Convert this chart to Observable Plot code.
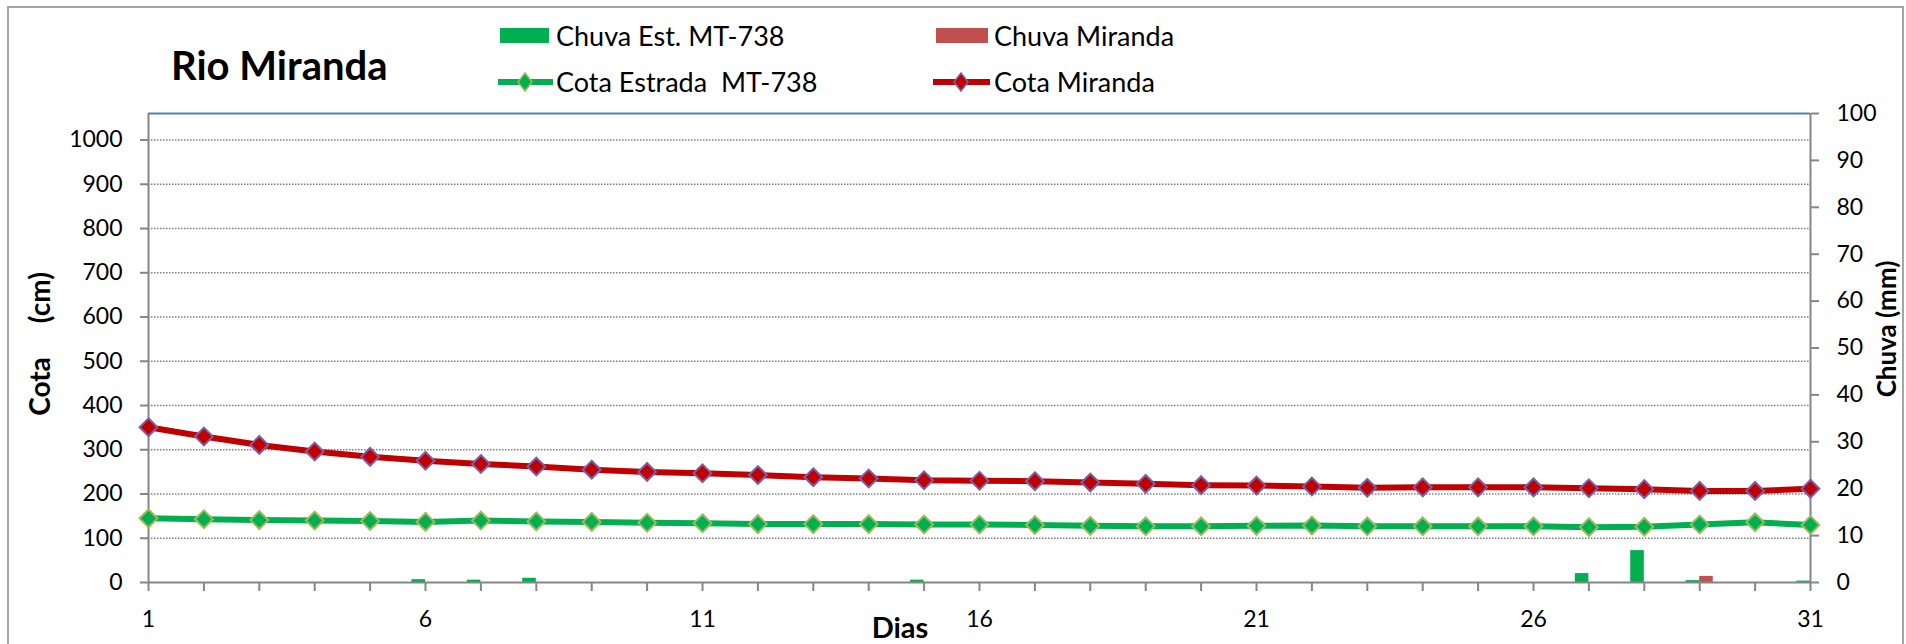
<!DOCTYPE html>
<html>
<head>
<meta charset="utf-8">
<script src="https://cdn.jsdelivr.net/npm/d3@7"></script>
<script src="https://cdn.jsdelivr.net/npm/@observablehq/plot@0.6"></script>
<style>
  body { margin: 0; background: #fff; font-family: Lato, "Open Sans", sans-serif; }
  #wrap { position: relative; width: 1906px; height: 644px; overflow: hidden; background: #fff; }
  #frame { position: absolute; left: 7px; top: 6px; width: 1897px; height: 720px; border: 2px solid #a6a6a6; box-sizing: border-box; pointer-events: none; }
  #header { display: block; }
  #chart svg { display: block; }
</style>
</head>
<body>
<div id="wrap">
  <svg id="header" width="1906" height="100"></svg>
  <div id="chart"></div>
  <div id="frame"></div>
</div>
<script>
// ---- Data ----
const days = [1,2,3,4,5,6,7,8,9,10,11,12,13,14,15,16,17,18,19,20,21,22,23,24,25,26,27,28,29,30,31];
const cotaMiranda = [351,330,311,296,284,275,268,262,255,250,247,243,238,235,231,230,229,226,223,220,219,217,214,215,215,215,213,211,207,207,212];
const cotaEstrada = [145,143,141,140,139,137,140,138,137,135,134,132,132,132,131,131,130,128,127,127,128,129,127,127,127,127,125,126,131,136,130];
const chuvaEst    = [0,0,0,0,0,0.6,0.5,0.9,0,0,0,0,0,0,0.5,0,0,0,0,0,0,0,0,0,0,0,1.9,6.8,0.4,0,0.3];
const chuvaMir    = [0,0,0,0,0,0,0,0,0,0,0,0,0,0,0,0,0,0,0,0,0,0,0,0,0,0,0,0,1.3,0,0];
const cotaTicks   = [0,100,200,300,400,500,600,700,800,900,1000];
const chuvaTicks  = [0,10,20,30,40,50,60,70,80,90,100];
const xLabelDays  = [1,6,11,16,21,26,31];

const title = "Rio Miranda";
const legendItems = ["Chuva Est. MT-738", "Chuva Miranda", "Cota Estrada\u00a0\u00a0MT-738", "Cota Miranda"];
const yTitleLeft = "Cota\u00a0\u00a0\u00a0\u00a0\u00a0(cm)";
const yTitleRight = "Chuva (mm)";
const xTitle = "Dias";

// ---- Styles ----
const GREEN = "#00B050", RED_BAR = "#C0504D", RED = "#C00000";
const AXIS = "#868686";
const COTA_MAX = 1060;              // left axis top
const K = COTA_MAX / 100;           // right axis (0..100 mm) mapped onto left scale
const BW = 0.245;                   // bar width in days

const data = days.map((d, i) => ({
  day: d, miranda: cotaMiranda[i], estrada: cotaEstrada[i],
  chuvaEst: chuvaEst[i], chuvaMir: chuvaMir[i]
}));

// ---- Header: title + legend ----
const hdr = d3.select("#header");
hdr.append("text").attr("x", 171).attr("y", 80)
  .attr("font-family", "Lato").attr("font-weight", 700).attr("font-size", 40)
  .attr("fill", "#000").text(title);

function legText(x, y, t) {
  hdr.append("text").attr("x", x).attr("y", y)
    .attr("font-family", "Lato").attr("font-size", 27).attr("fill", "#000")
    .text(t);
}
function legDiamond(cx, cy, fill, stroke) {
  hdr.append("path")
    .attr("d", `M${cx},${cy-9}L${cx+7},${cy}L${cx},${cy+9}L${cx-7},${cy}Z`)
    .attr("fill", fill).attr("stroke", stroke).attr("stroke-width", 1.5);
}
hdr.append("rect").attr("x", 500).attr("y", 28).attr("width", 49).attr("height", 15).attr("fill", GREEN);
legText(556, 46, legendItems[0]);
hdr.append("rect").attr("x", 936).attr("y", 28).attr("width", 52).attr("height", 15).attr("fill", RED_BAR);
legText(994, 46, legendItems[1]);
hdr.append("line").attr("x1", 498).attr("x2", 553).attr("y1", 82).attr("y2", 82)
  .attr("stroke", GREEN).attr("stroke-width", 6);
legDiamond(525, 82, GREEN, "#9BBB59");
legText(556, 92, legendItems[2]);
hdr.append("line").attr("x1", 933).attr("x2", 990).attr("y1", 82).attr("y2", 82)
  .attr("stroke", RED).attr("stroke-width", 6);
legDiamond(961, 82, RED, "#7A5FA6");
legText(994, 92, legendItems[3]);

// ---- Chart ----
const chart = Plot.plot({
  width: 1906,
  height: 544,
  marginTop: 13,
  marginBottom: 62,
  marginLeft: 148,
  marginRight: 96,
  style: { fontFamily: "Lato", fontSize: "23px", color: "#000", background: "transparent", overflow: "visible" },
  x: { domain: [1, 31] },
  y: { domain: [0, COTA_MAX] },
  marks: [
    Plot.gridY(cotaTicks.filter(v => v > 0), { stroke: "#7f7f7f", strokeOpacity: 1, strokeWidth: 1.5, strokeDasharray: "1.5,1.5" }),
    // bars (right axis values mapped onto left scale)
    Plot.rectY(data.filter(d => d.chuvaEst > 0), { x1: d => d.day - BW, x2: d => d.day, y1: 0, y2: d => d.chuvaEst * K, fill: GREEN }),
    Plot.rectY(data.filter(d => d.chuvaMir > 0), { x1: d => d.day, x2: d => d.day + BW, y1: 0, y2: d => d.chuvaMir * K, fill: RED_BAR }),
    // axis lines
    Plot.ruleY([COTA_MAX], { stroke: "#4F81BD", strokeWidth: 2 }),
    Plot.ruleX([1], { y1: 0, y2: COTA_MAX, stroke: AXIS, strokeWidth: 2 }),
    Plot.ruleX([31], { y1: 0, y2: COTA_MAX, stroke: AXIS, strokeWidth: 2 }),
    Plot.ruleY([0], { stroke: AXIS, strokeWidth: 2 }),
    // axes
    Plot.axisY({ anchor: "left", ticks: cotaTicks, tickFormat: d => String(d), tickSize: 8, tickPadding: 18, stroke: AXIS, strokeWidth: 2, fill: "#000", label: null }),
    Plot.axisY({ anchor: "right", ticks: chuvaTicks.map(v => v * K), tickFormat: d => String(Math.round(d / K)), tickSize: 8, tickPadding: 18, stroke: AXIS, strokeWidth: 2, fill: "#000", label: null }),
    Plot.axisX({ ticks: days, tickFormat: d => xLabelDays.includes(d) ? String(d) : "", tickSize: 9, tickPadding: 19, stroke: AXIS, strokeWidth: 2, fill: "#000", label: null }),
    // lines
    Plot.line(data, { x: "day", y: "estrada", stroke: GREEN, strokeWidth: 6, strokeLinejoin: "round" }),
    Plot.line(data, { x: "day", y: "miranda", stroke: RED, strokeWidth: 6, strokeLinejoin: "round" }),
    Plot.dot(data, { x: "day", y: "estrada", symbol: "diamond2", r: 8, fill: GREEN, stroke: "#9BBB59", strokeWidth: 2 }),
    Plot.dot(data, { x: "day", y: "miranda", symbol: "diamond2", r: 8, fill: RED, stroke: "#7A5FA6", strokeWidth: 2 })
  ]
});
document.getElementById("chart").appendChild(chart);

// axis titles
const svg = d3.select(chart);
svg.append("text").attr("transform", "translate(40,244) rotate(-90)")
  .attr("text-anchor", "middle").attr("dy", "0.36em")
  .attr("font-family", "Lato").attr("font-weight", 700).attr("font-size", 28).attr("fill", "#000")
  .text(yTitleLeft);
svg.append("text").attr("transform", "translate(1887,229) rotate(-90)")
  .attr("text-anchor", "middle").attr("dy", "0.36em")
  .attr("font-family", "Lato").attr("font-weight", 700).attr("font-size", 26).attr("fill", "#000")
  .text(yTitleRight);
svg.append("text").attr("x", 900).attr("y", 528).attr("dy", "0.36em")
  .attr("text-anchor", "middle")
  .attr("font-family", "Lato").attr("font-weight", 700).attr("font-size", 29).attr("fill", "#000")
  .text(xTitle);
</script>
</body>
</html>
